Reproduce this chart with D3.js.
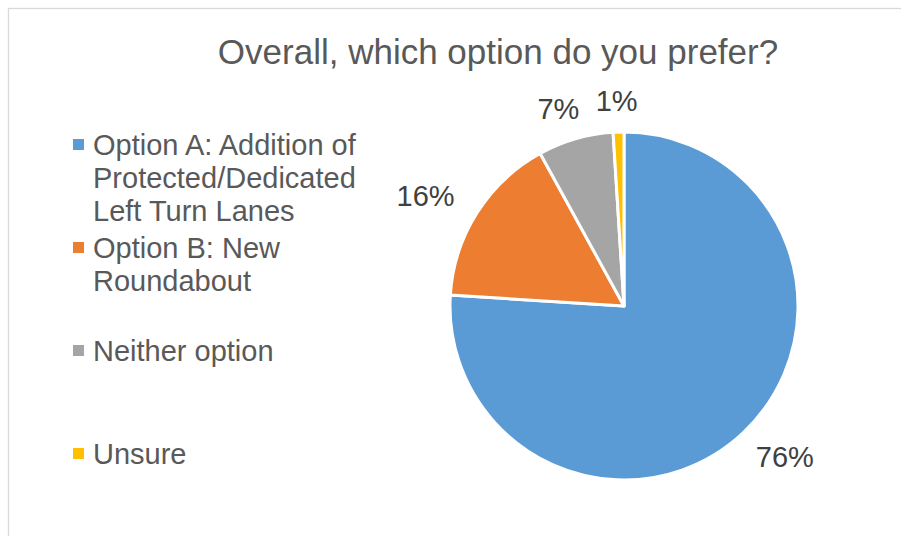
<!DOCTYPE html>
<html>
<head>
<meta charset="utf-8">
<script src="https://cdn.jsdelivr.net/npm/d3@7"></script>
<style>
  html, body { margin: 0; padding: 0; background: #fff; }
  svg { display: block; font-family: "Liberation Sans", Arial, sans-serif; }
</style>
</head>
<body>
<svg id="chart" width="901" height="536"></svg>
<script>
// Survey responses
const categories = [
  "Option A: Addition of Protected/Dedicated Left Turn Lanes",
  "Option B: New Roundabout",
  "Neither option",
  "Unsure"
];
const shares = [76, 16, 7, 1];
const sliceColors = ["#5B9BD5", "#ED7D31", "#A5A5A5", "#FFC000"];
const chartTitle = "Overall, which option do you prefer?";

const width = 901, height = 536;
const svg = d3.select("#chart");

// Chart area frame
svg.append("rect")
  .attr("x", 8.5).attr("y", 8.5)
  .attr("width", width + 20).attr("height", height + 20)
  .attr("fill", "none")
  .attr("stroke", "#d9d9d9")
  .attr("stroke-width", 1.3);

// Title
svg.append("text")
  .attr("x", 498).attr("y", 64)
  .attr("text-anchor", "middle")
  .attr("font-size", 35)
  .attr("fill", "#595959")
  .text(chartTitle);

// Pie
const cx = 624, cy = 306, radius = 174;
const data = categories.map((c, i) => ({ name: c, value: shares[i], color: sliceColors[i] }));
const pie = d3.pie().value(d => d.value).sort(null);
const arcs = pie(data);
const arc = d3.arc().innerRadius(0).outerRadius(radius);

const g = svg.append("g").attr("transform", `translate(${cx},${cy})`);
g.selectAll("path.slice")
  .data(arcs)
  .join("path")
  .attr("class", "slice")
  .attr("d", arc)
  .attr("fill", d => d.data.color)
  .attr("stroke", "#fff")
  .attr("stroke-width", 3)
  .attr("stroke-linejoin", "round");

// Data labels on an ellipse around the pie (wider sideways, since the
// text boxes are wider than tall)
const labelFont = 29;
const labelRx = radius + 61, labelRy = radius + 32;
g.selectAll("text.pct")
  .data(arcs)
  .join("text")
  .attr("class", "pct")
  .attr("font-size", labelFont)
  .attr("fill", "#404040")
  .attr("text-anchor", "middle")
  .attr("x", d => Math.sin((d.startAngle + d.endAngle) / 2) * labelRx)
  .attr("y", d => -Math.cos((d.startAngle + d.endAngle) / 2) * labelRy + labelFont * 0.36)
  .text(d => d.data.value + "%");

// Legend
const legendX = 73, textX = 93, firstBaseline = 155, entryStep = 103, lineHeight = 33;
const legendFont = 29, maxTextWidth = 275;
const legend = svg.append("g");
data.forEach((d, i) => {
  const base = firstBaseline + i * entryStep;
  legend.append("rect")
    .attr("x", legendX).attr("y", base - 16)
    .attr("width", 11).attr("height", 11)
    .attr("fill", d.color);
  const t = legend.append("text")
    .attr("font-size", legendFont)
    .attr("fill", "#595959");
  // wrap words to the legend width
  const words = d.name.split(" ");
  let line = [], lineNo = 0;
  let tspan = t.append("tspan").attr("x", textX).attr("y", base);
  words.forEach(word => {
    line.push(word);
    tspan.text(line.join(" "));
    if (tspan.node().getComputedTextLength() > maxTextWidth && line.length > 1) {
      line.pop();
      tspan.text(line.join(" "));
      line = [word];
      lineNo++;
      tspan = t.append("tspan").attr("x", textX).attr("y", base + lineNo * lineHeight).text(word);
    }
  });
});
</script>
</body>
</html>
